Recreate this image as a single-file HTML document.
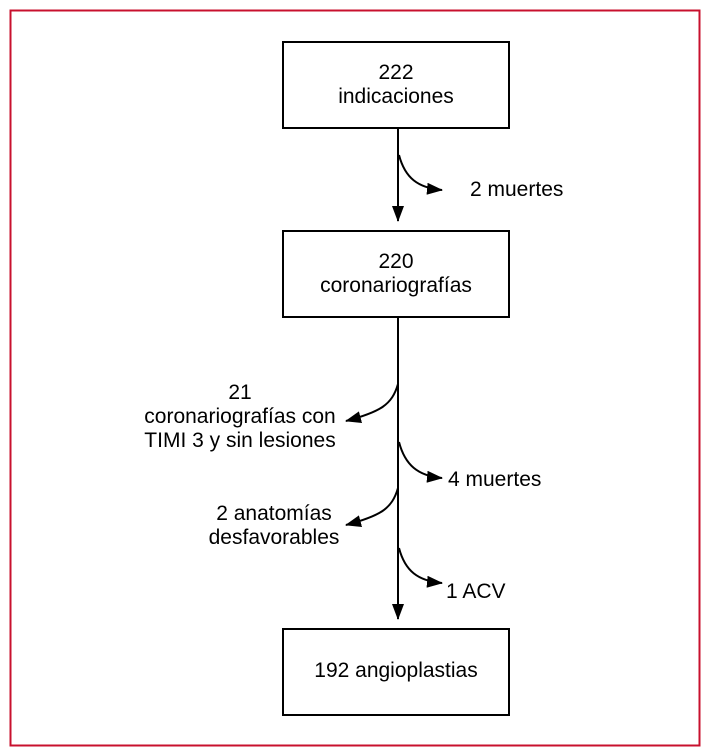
<!DOCTYPE html>
<html><head><style>
html,body{margin:0;padding:0;background:#fff;}
svg{display:block;}
text{font-family:"Liberation Sans Narrow","Liberation Sans",sans-serif;font-size:21px;fill:#000;}
</style></head><body>
<svg width="714" height="755" viewBox="0 0 714 755" xmlns="http://www.w3.org/2000/svg">
<defs>
<marker id="a" markerWidth="10" markerHeight="10" refX="9" refY="5" orient="auto" markerUnits="userSpaceOnUse" viewBox="0 0 10 10">
<path d="M0,0 L10,5 L0,10 z" fill="#000"/></marker>
<marker id="b" markerWidth="16" markerHeight="12" refX="15" refY="6" orient="auto" markerUnits="userSpaceOnUse" viewBox="0 0 16 12">
<path d="M0,0 L16,6 L0,12 z" fill="#000"/></marker>
</defs>
<rect x="10.5" y="10.5" width="689" height="735" fill="none" stroke="#c8102e" stroke-width="2"/>
<g fill="none" stroke="#000" stroke-width="2">
<rect x="283" y="42" width="226" height="86"/>
<rect x="283" y="231" width="226" height="86"/>
<rect x="283" y="629" width="226" height="86"/>
<line x1="398" y1="128" x2="398" y2="221" marker-end="url(#b)"/>
<line x1="398" y1="317" x2="398" y2="619" marker-end="url(#b)"/>
<path d="M399,155 C405,178 418,188 442,190" marker-end="url(#b)"/>
<path d="M398,384 C392,405 380,412 346,421" marker-end="url(#b)"/>
<path d="M399,442 C405,465 418,476 442,478" marker-end="url(#b)"/>
<path d="M398,488 C392,509 380,516 346,525" marker-end="url(#b)"/>
<path d="M399,548 C405,571 418,581 442,583" marker-end="url(#b)"/>
</g>
<g text-anchor="middle">
<text x="396" y="79">222</text>
<text x="396" y="103">indicaciones</text>
<text x="396" y="268">220</text>
<text x="396" y="292">coronariografías</text>
<text x="396" y="677">192 angioplastias</text>
<text x="240" y="399">21</text>
<text x="240" y="423">coronariografías con</text>
<text x="240" y="447">TIMI 3 y sin lesiones</text>
<text x="274" y="520">2 anatomías</text>
<text x="274" y="544">desfavorables</text>
</g>
<text x="470" y="196">2 muertes</text>
<text x="448" y="486">4 muertes</text>
<text x="446" y="598">1 ACV</text>
</svg>
</body></html>
